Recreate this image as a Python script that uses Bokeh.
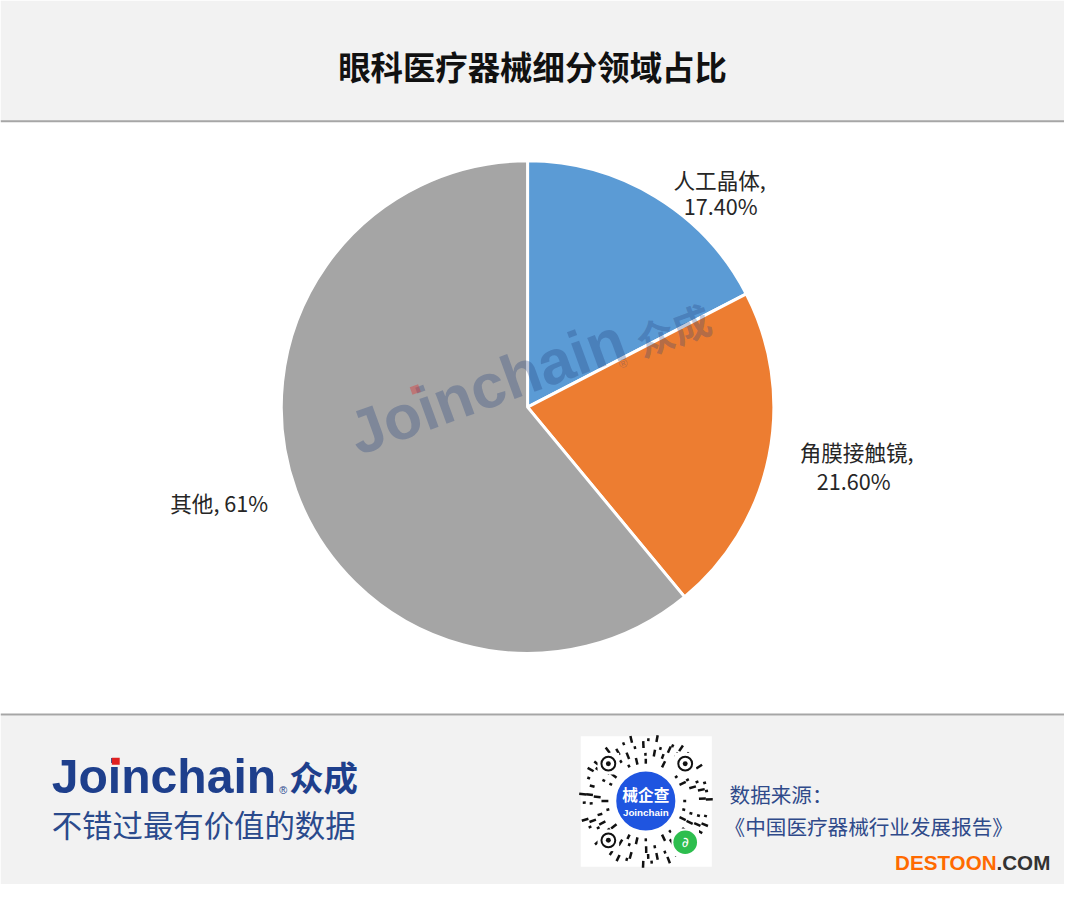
import numpy as np
from bokeh.plotting import figure
from bokeh.models import Range1d
from bokeh.core.properties import value
from bokeh.embed import file_html
from bokeh.resources import INLINE

# ---- data ----
title = "眼科医疗器械细分领域占比"
categories = ["人工晶体", "角膜接触镜", "其他"]
shares = [17.4, 21.6, 61.0]
share_labels = ["17.40%", "21.60%", "61%"]
colors = ["#5B9BD5", "#ED7D31", "#A5A5A5"]
source_lines = ["数据来源：", "《中国医疗器械行业发展报告》"]

W, H = 1064, 884
IW, IH = 1080, 900
FS = H / IH

def Y(y):
    return IH - y

def fs(px):
    return value(f"{px * FS:.1f}px")

CJK = value("Noto Sans CJK SC")
LAT = value("Liberation Sans")

p = figure(width=W, height=H, x_range=Range1d(0, IW), y_range=Range1d(0, IH),
           output_backend="svg", toolbar_location=None, min_border=0,
           background_fill_color="white", border_fill_color="white",
           outline_line_color=None)
p.axis.visible = False
p.xgrid.visible = False
p.ygrid.visible = False

# ---- background bands ----
p.quad(left=[0, 0], right=[IW, IW], top=[Y(0), Y(728)], bottom=[Y(123), Y(IH)],
       fill_color="#F2F2F2", line_color=None)
p.segment(x0=[0, 0], x1=[IW, IW], y0=[Y(123), Y(727)], y1=[Y(123), Y(727)],
          line_color="#A6A6A6", line_width=2)

# ---- title ----
p.text(x=[IW / 2], y=[Y(66)], text=[title], text_font=CJK, text_font_size=fs(33),
       text_font_style="bold", text_align="center", text_baseline="middle",
       text_color="#111111")

# ---- pie ----
cx, cy, r = 535, Y(414), 250
frac = np.array(shares) / sum(shares)
cum = np.concatenate([[0], np.cumsum(frac)])
starts = np.pi / 2 - cum[:-1] * 2 * np.pi
ends = np.pi / 2 - cum[1:] * 2 * np.pi
p.wedge(x=[cx] * 3, y=[cy] * 3, radius=r, start_angle=starts, end_angle=ends,
        direction="clock", fill_color=colors, line_color="white", line_width=3)

# ---- watermark ----
ang = np.deg2rad(20)
wm_col, wm_a = "#23427F", 0.3
p.text(x=[356], y=[Y(443)], text=["Joinchain"], angle=ang, text_font=LAT,
       text_font_style="bold", text_font_size=fs(63), text_color=wm_col,
       text_alpha=wm_a, text_align="left", text_baseline="middle")
p.rect(x=[421], y=[Y(396)], width=9, height=8, angle=ang, fill_color="#E03030",
       fill_alpha=0.4, line_color=None)
p.text(x=[628], y=[Y(371)], text=["®"], angle=ang, text_font=LAT,
       text_font_size=fs(12), text_color=wm_col, text_alpha=wm_a,
       text_align="left", text_baseline="middle")
p.text(x=[646], y=[Y(348)], text=["众成"], angle=ang, text_font=CJK,
       text_font_style="bold", text_font_size=fs(39), text_color=wm_col,
       text_alpha=wm_a, text_align="left", text_baseline="middle")

# ---- data labels ----
lab_font = fs(22)
lab_col = "#262626"
p.text(x=[730, 731], y=[Y(182), Y(209)], text=[categories[0] + ",", share_labels[0]],
       text_font=CJK, text_font_size=lab_font, text_color=lab_col,
       text_align="center", text_baseline="middle")
p.text(x=[869, 866], y=[Y(459), Y(489)], text=[categories[1] + ",", share_labels[1]],
       text_font=CJK, text_font_size=lab_font, text_color=lab_col,
       text_align="center", text_baseline="middle")
p.text(x=[222], y=[Y(511)], text=[categories[2] + ", " + share_labels[2]],
       text_font=CJK, text_font_size=lab_font, text_color=lab_col,
       text_align="center", text_baseline="middle")

# ---- footer logo ----
navy = "#1E3F8C"
p.text(x=[52], y=[Y(790)], text=["Joinchain"], text_font=LAT,
       text_font_style="bold", text_font_size=fs(49), text_color=navy,
       text_align="left", text_baseline="middle")
p.quad(left=[113], right=[121], top=[Y(771)], bottom=[Y(778)],
       fill_color="#E02020", line_color=None)
p.text(x=[283], y=[Y(804)], text=["®"], text_font=LAT,
       text_font_size=fs(11), text_color=navy, text_align="left",
       text_baseline="middle")
p.text(x=[293], y=[Y(790)], text=["众成"], text_font=CJK, text_font_style="bold",
       text_font_size=fs(35), text_color=navy, text_align="left",
       text_baseline="middle")
p.text(x=[52], y=[Y(838)], text=["不错过最有价值的数据"], text_font=CJK,
       text_font_size=fs(31), text_color="#2A4A8C", text_align="left",
       text_baseline="middle")

# ---- QR block (decorative) ----
p.quad(left=[589], right=[722], top=[Y(749)], bottom=[Y(882)],
       fill_color="white", line_color=None)
qx, qy = 655, Y(815)
ring_r = [38, 46, 54, 61]
pattern = [1, 0, 1, 1, 0, 1, 0, 1, 1, 1, 0, 1]
x0s, y0s, x1s, y1s = [], [], [], []
for k, rr in enumerate(ring_r):
    n = 28 + 6 * k
    for i in range(n):
        if pattern[(i + k) % len(pattern)] == 0:
            continue
        a = 2 * np.pi * i / n + 0.1 * k
        ln = 3 + 2 * ((i * 7 + k) % 3)
        x0s.append(qx + rr * np.cos(a)); y0s.append(qy + rr * np.sin(a))
        x1s.append(qx + (rr + ln) * np.cos(a)); y1s.append(qy + (rr + ln) * np.sin(a))
p.segment(x0=x0s, y0=y0s, x1=x1s, y1=y1s, line_color="#111111", line_width=2.5)
for ex, ey in [(617, Y(777)), (695, Y(777)), (617, Y(855))]:
    p.quad(left=[ex - 11], right=[ex + 11], top=[ey + 11], bottom=[ey - 11],
           fill_color="white", line_color=None)
    p.circle(x=[ex], y=[ey], radius=7, fill_color="white", line_color="#111111",
             line_width=2)
    p.circle(x=[ex], y=[ey], radius=2.5, fill_color="#111111", line_color=None)
p.circle(x=[qx], y=[qy], radius=31, fill_color="#1F55E0", line_color="white",
         line_width=2)
p.text(x=[qx], y=[Y(808)], text=["械企查"], text_font=CJK, text_font_style="bold",
       text_font_size=fs(16), text_color="white", text_align="center",
       text_baseline="middle")
p.text(x=[qx], y=[Y(827)], text=["Joinchain"], text_font=LAT,
       text_font_style="bold", text_font_size=fs(10), text_color="white",
       text_align="center", text_baseline="middle")
p.quad(left=[681], right=[709], top=[Y(843)], bottom=[Y(871)],
       fill_color="white", line_color=None)
p.circle(x=[695], y=[Y(857)], radius=12, fill_color="#2DBE4E", line_color=None)
p.text(x=[695], y=[Y(857)], text=["∂"], text_font=value("DejaVu Sans"),
       text_font_size=fs(14), text_color="white", text_align="center",
       text_baseline="middle")

# ---- source ----
p.text(x=[740, 735], y=[Y(808), Y(840)], text=source_lines, text_font=CJK,
       text_font_size=fs(21), text_color="#2F4A8A", text_align="left",
       text_baseline="middle")

# ---- site mark ----
p.text(x=[1011], y=[Y(878)], text=["DESTOON"], text_font=LAT,
       text_font_style="bold", text_font_size=fs(21), text_color="#FF6A00",
       text_align="right", text_baseline="middle")
p.text(x=[1011], y=[Y(878)], text=[".COM"], text_font=LAT,
       text_font_style="bold", text_font_size=fs(21), text_color="#333333",
       text_align="left", text_baseline="middle")

open("out.html", "w").write(file_html(p, INLINE))
